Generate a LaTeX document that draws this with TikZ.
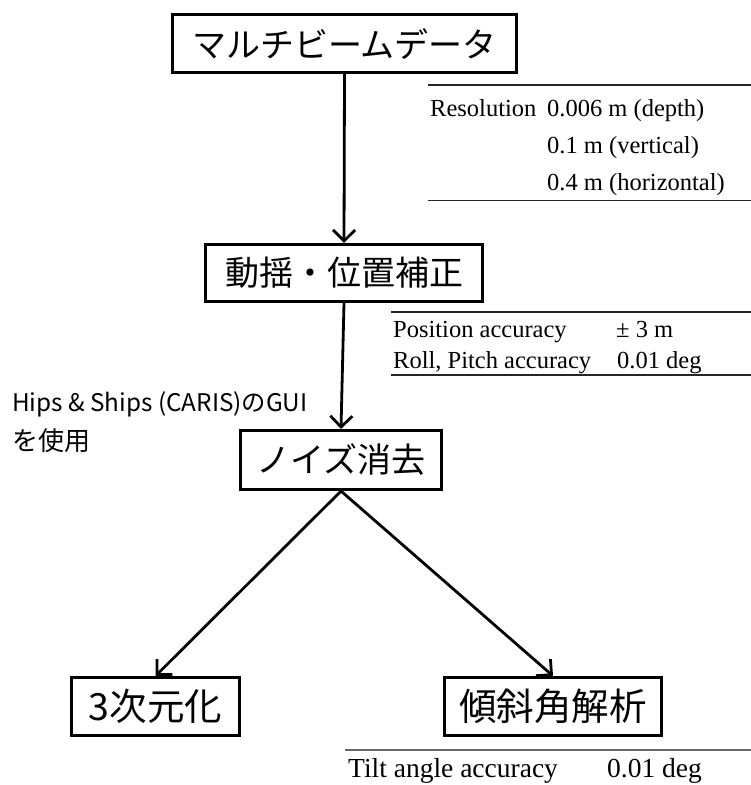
\documentclass[tikz,border=0pt]{standalone}
\usepackage{fontspec}
\setmainfont{Liberation Serif}
\newfontfamily\jp{Noto Sans CJK JP}
\usetikzlibrary{arrows.meta}
\begin{document}
\begin{tikzpicture}[x=1pt,y=-1pt,
  box/.style={draw, line width=2.6pt, inner sep=0pt, font=\jp\fontsize{34}{40}\selectfont},
  bigbox/.style={box, font=\jp\fontsize{37.5}{44}\selectfont},
  arr/.style={line width=2.8pt, -{Straight Barb[length=11pt,width=22pt]}},
  rulel/.style={line width=1.8pt, draw=black!85},
  tab/.style={inner sep=0pt, anchor=base west, font=\fontsize{24.5}{28}\selectfont},
  tabbig/.style={tab, font=\fontsize{27.5}{32}\selectfont},
  note/.style={inner sep=0pt, anchor=base west, font=\jp\fontsize{24.3}{30}\selectfont},
  notejp/.style={note, font=\jp\fontsize{26}{30}\selectfont},
]
\useasboundingbox (0,0) rectangle (751,785);
% boxes
\node[box, minimum width=343.5pt, minimum height=58.5pt] (mb) at (344.5,43.5) {マルチビームデータ};
\node[box, minimum width=277.5pt, minimum height=57.5pt] (pc) at (344,273) {動揺・位置補正};
\node[box, minimum width=200.5pt, minimum height=59.5pt] (nr) at (341,460) {ノイズ消去};
\node[bigbox, minimum width=168.5pt, minimum height=58.5pt] (td) at (155.5,706.5) {3次元化};
\node[bigbox, minimum width=217.5pt, minimum height=58.5pt] (ta) at (553,706.5) {傾斜角解析};
% arrows
\draw[arr] (mb.south) -- (pc.north);
\draw[arr] (pc.south) -- (nr.north);
\draw[arr] (nr.south) -- (td.north);
\draw[arr] (nr.south) -- (ta.north);
% resolution table
\draw[rulel] (428,85) -- (751,85);
\node[tab] (r1) at (430,116) {Resolution};
\node[tab] (r2) at (547,116) {0.006 m (depth)};
\node[tab] (r3) at (547,153) {0.1 m (vertical)};
\node[tab] (r4) at (547,190) {0.4 m (horizontal)};
\draw[rulel] (428,200.5) -- (751,200.5);
% position table
\draw[rulel] (391,312) -- (751,312);
\node[tab] (p1) at (393,337) {Position accuracy};
\node[tab] (p2) at (616,337) {± 3 m};
\node[tab] (p3) at (393,368) {Roll, Pitch accuracy};
\node[tab] (p4) at (617,368) {0.01 deg};
\draw[rulel] (391,375) -- (751,375);
% tilt table
\draw[line width=1.8pt, draw=black!60] (345,750) -- (751,750);
\node[tabbig] (t1) at (348,777) {Tilt angle accuracy};
\node[tabbig] (t2) at (607,777) {0.01 deg};
% note
\node[note] (h1) at (12,411) {Hips \& Ships (CARIS)のGUI};
\node[notejp] (h2) at (12,450) {を使用};
\end{tikzpicture}
\end{document}
